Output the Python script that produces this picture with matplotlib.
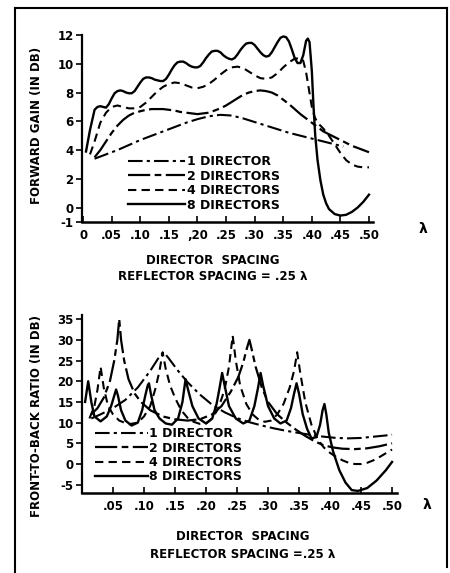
import matplotlib
matplotlib.use("Agg")
import matplotlib.pyplot as plt
from matplotlib.lines import Line2D

plt.rcParams['font.family'] = ['DejaVu Sans']
plt.rcParams['font.weight'] = 'bold'
plt.rcParams['axes.unicode_minus'] = False

# ---------------- data ----------------
series_labels = ["1 DIRECTOR", "2 DIRECTORS", "4 DIRECTORS", "8 DIRECTORS"]

# Forward gain (dB) vs director spacing (wavelengths)
gain_1 = [(0.02, 3.4), (0.04, 3.7), (0.06, 4.0), (0.08, 4.35), (0.10, 4.7), (0.12, 5.0),
          (0.14, 5.3), (0.16, 5.6), (0.18, 5.9), (0.20, 6.15), (0.22, 6.35), (0.24, 6.45),
          (0.26, 6.4), (0.28, 6.2), (0.30, 5.95), (0.32, 5.7), (0.34, 5.45), (0.36, 5.2),
          (0.38, 5.0), (0.40, 4.8), (0.42, 4.6), (0.44, 4.4), (0.455, 4.25)]
gain_2 = [(0.02, 3.5), (0.03, 4.0), (0.04, 4.6), (0.05, 5.2), (0.06, 5.7), (0.07, 6.1),
          (0.08, 6.4), (0.09, 6.6), (0.10, 6.7), (0.11, 6.8), (0.12, 6.85), (0.13, 6.85),
          (0.14, 6.85), (0.15, 6.8), (0.16, 6.75), (0.17, 6.65), (0.18, 6.6), (0.19, 6.55),
          (0.20, 6.5), (0.21, 6.55), (0.22, 6.6), (0.23, 6.75), (0.24, 6.9), (0.25, 7.1),
          (0.26, 7.35), (0.27, 7.6), (0.28, 7.85), (0.29, 8.0), (0.30, 8.1), (0.31, 8.15),
          (0.32, 8.1), (0.33, 8.0), (0.34, 7.8), (0.35, 7.5), (0.36, 7.2), (0.37, 6.85),
          (0.38, 6.5), (0.39, 6.2), (0.40, 5.9), (0.41, 5.6), (0.42, 5.3), (0.43, 5.1),
          (0.44, 4.9), (0.45, 4.7), (0.46, 4.5), (0.47, 4.3), (0.48, 4.15), (0.49, 4.0),
          (0.50, 3.85)]
gain_4 = [(0.012, 3.7), (0.02, 4.6), (0.03, 5.9), (0.04, 6.6), (0.05, 7.0), (0.06, 7.1),
          (0.07, 7.0), (0.08, 6.9), (0.09, 6.9), (0.10, 7.0), (0.11, 7.3), (0.12, 7.7),
          (0.13, 8.1), (0.14, 8.4), (0.15, 8.6), (0.16, 8.7), (0.17, 8.65), (0.18, 8.5),
          (0.19, 8.35), (0.20, 8.3), (0.21, 8.4), (0.22, 8.6), (0.23, 8.9), (0.24, 9.25),
          (0.25, 9.55), (0.26, 9.75), (0.27, 9.8), (0.28, 9.7), (0.29, 9.45), (0.30, 9.2),
          (0.31, 9.0), (0.32, 8.95), (0.33, 9.05), (0.34, 9.35), (0.35, 9.75), (0.36, 10.1),
          (0.37, 10.35), (0.38, 10.4), (0.385, 10.2), (0.39, 9.4), (0.395, 8.2), (0.40, 7.0),
          (0.405, 6.3), (0.41, 5.9), (0.42, 5.5), (0.43, 5.0), (0.44, 4.4), (0.45, 3.8),
          (0.46, 3.3), (0.47, 3.0), (0.48, 2.85), (0.49, 2.8), (0.50, 2.8)]
gain_8 = [(0.005, 3.9), (0.012, 5.4), (0.02, 6.8), (0.025, 7.0), (0.03, 7.05), (0.035, 7.0),
          (0.04, 6.95), (0.045, 7.2), (0.05, 7.6), (0.055, 7.95), (0.06, 8.1), (0.065, 8.15),
          (0.07, 8.1), (0.075, 8.0), (0.08, 7.95), (0.085, 7.95), (0.09, 8.1), (0.095, 8.4),
          (0.10, 8.7), (0.105, 8.95), (0.11, 9.05), (0.115, 9.05), (0.12, 9.0), (0.125, 8.9),
          (0.13, 8.85), (0.135, 8.8), (0.14, 8.8), (0.145, 8.95), (0.15, 9.25), (0.155, 9.6),
          (0.16, 9.9), (0.165, 10.1), (0.17, 10.15), (0.175, 10.15), (0.18, 10.05), (0.185, 9.9),
          (0.19, 9.8), (0.195, 9.75), (0.20, 9.75), (0.205, 9.85), (0.21, 10.1), (0.215, 10.4),
          (0.22, 10.65), (0.225, 10.85), (0.23, 10.9), (0.235, 10.9), (0.24, 10.8), (0.245, 10.6),
          (0.25, 10.45), (0.255, 10.35), (0.26, 10.3), (0.265, 10.4), (0.27, 10.65), (0.275, 10.95),
          (0.28, 11.2), (0.285, 11.4), (0.29, 11.45), (0.295, 11.45), (0.30, 11.3), (0.305, 11.05),
          (0.31, 10.8), (0.315, 10.6), (0.32, 10.5), (0.325, 10.55), (0.33, 10.8), (0.335, 11.15),
          (0.34, 11.5), (0.345, 11.8), (0.35, 11.9), (0.355, 11.85), (0.36, 11.55), (0.365, 11.0),
          (0.37, 10.4), (0.375, 10.05), (0.38, 10.05), (0.385, 10.6), (0.39, 11.6), (0.393, 11.75),
          (0.396, 11.5), (0.40, 9.5), (0.403, 7.0), (0.406, 5.0), (0.41, 3.3), (0.415, 1.9),
          (0.42, 0.9), (0.425, 0.3), (0.43, -0.1), (0.44, -0.45), (0.45, -0.55), (0.46, -0.5),
          (0.47, -0.3), (0.48, 0.0), (0.49, 0.4), (0.50, 0.9)]

# Front-to-back ratio (dB) vs director spacing
ftb_1 = [(0.015, 11), (0.03, 12), (0.05, 13.5), (0.07, 15.5), (0.09, 18.5), (0.11, 22.5),
         (0.125, 26), (0.132, 27), (0.14, 25.5), (0.155, 22.5), (0.17, 19.8), (0.19, 16.8),
         (0.21, 14.3), (0.23, 12.5), (0.25, 11.1), (0.27, 10.1), (0.29, 9.3), (0.31, 8.6),
         (0.33, 8.0), (0.35, 7.5), (0.37, 7.0), (0.39, 6.6), (0.41, 6.3), (0.43, 6.2),
         (0.45, 6.3), (0.47, 6.6), (0.49, 6.9), (0.50, 7.1)]
ftb_2 = [(0.015, 12), (0.025, 13.5), (0.035, 16), (0.045, 20), (0.052, 25), (0.057, 30),
         (0.06, 35), (0.063, 30), (0.068, 25), (0.075, 20.5), (0.085, 17), (0.095, 15),
         (0.11, 13), (0.13, 11.5), (0.15, 10.8), (0.17, 10.5), (0.19, 10.8), (0.21, 12),
         (0.225, 14), (0.24, 17.5), (0.252, 21), (0.26, 24.5), (0.266, 28), (0.27, 30),
         (0.274, 27.5), (0.28, 23.5), (0.29, 18.5), (0.30, 15), (0.315, 12), (0.33, 10),
         (0.345, 8.3), (0.36, 6.8), (0.375, 5.5), (0.39, 4.5), (0.405, 4.0), (0.42, 3.7),
         (0.44, 3.6), (0.46, 3.8), (0.48, 4.3), (0.50, 5.0)]
ftb_4 = [(0.012, 11), (0.02, 14), (0.025, 18), (0.03, 23.5), (0.035, 18.5), (0.042, 14),
         (0.05, 12), (0.06, 10.5), (0.075, 9.6), (0.09, 10), (0.10, 11.5), (0.11, 14),
         (0.118, 18), (0.125, 22.5), (0.13, 27), (0.135, 23), (0.142, 19), (0.15, 16),
         (0.16, 13), (0.17, 11.2), (0.18, 10.2), (0.19, 9.7), (0.20, 9.8), (0.21, 11),
         (0.22, 13.5), (0.23, 18), (0.237, 23.5), (0.243, 31), (0.248, 25), (0.255, 19),
         (0.265, 14.5), (0.275, 12), (0.285, 10.7), (0.295, 10.2), (0.305, 10.5), (0.315, 12),
         (0.325, 14.5), (0.335, 18.5), (0.342, 22.5), (0.347, 27), (0.352, 22), (0.36, 15),
         (0.37, 9.5), (0.38, 6), (0.39, 4), (0.40, 2.7), (0.41, 1.7), (0.42, 0.9),
         (0.43, 0.3), (0.44, 0.0), (0.45, 0.0), (0.46, 0.3), (0.47, 0.9), (0.48, 1.7),
         (0.49, 2.6), (0.50, 3.5)]
ftb_8 = [(0.005, 15), (0.01, 20), (0.015, 15), (0.02, 11.5), (0.03, 10.3), (0.04, 11.5),
         (0.047, 14), (0.052, 16.5), (0.055, 18), (0.058, 16.5), (0.063, 13), (0.07, 10.5),
         (0.08, 9.3), (0.09, 10.0), (0.097, 13), (0.102, 16.5), (0.106, 19), (0.108, 19.5),
         (0.111, 17), (0.117, 13), (0.125, 11), (0.135, 9.8), (0.145, 9.5), (0.155, 11),
         (0.162, 15), (0.167, 20.5), (0.171, 18), (0.178, 14), (0.188, 11), (0.20, 9.8),
         (0.21, 11), (0.217, 14.5), (0.222, 18.5), (0.226, 22), (0.23, 19), (0.237, 14),
         (0.248, 11), (0.26, 9.8), (0.27, 10.5), (0.278, 14), (0.284, 18.5), (0.288, 22),
         (0.292, 19), (0.30, 14), (0.31, 11), (0.32, 9.8), (0.33, 10.5), (0.337, 13.5),
         (0.342, 17), (0.346, 19.5), (0.35, 17), (0.356, 12), (0.363, 8.5), (0.37, 6.2),
         (0.378, 6.5), (0.384, 9.5), (0.388, 13), (0.391, 14.5), (0.394, 12), (0.398, 7.5),
         (0.405, 3), (0.415, -1.5), (0.425, -4.5), (0.435, -6.3), (0.445, -6.5), (0.46, -5.8),
         (0.475, -4), (0.49, -1.5), (0.50, 0.5)]

top_xticks = [0, 0.05, 0.10, 0.15, 0.20, 0.25, 0.30, 0.35, 0.40, 0.45, 0.50]
top_xticklabels = ["0", ".05", ".10", ".15", ",20", ".25", ".30", ".35", ".40", ".45", ".50"]
top_yticks = [-1, 0, 2, 4, 6, 8, 10, 12]
bot_xticks = [0.05, 0.10, 0.15, 0.20, 0.25, 0.30, 0.35, 0.40, 0.45, 0.50]
bot_xticklabels = [".05", ".10", ".15", ".20", ".25", ".30", ".35", ".40", ".45", ".50"]
bot_yticks = [-5, 0, 5, 10, 15, 20, 25, 30, 35]

# ---------------- styling ----------------
styles = [
    dict(linestyle=(0, (7, 2, 1.5, 2)), linewidth=1.5),
    dict(linestyle=(0, (10, 2, 3, 2)), linewidth=1.6),
    dict(linestyle=(0, (4, 2.5)), linewidth=1.5),
    dict(linestyle='-', linewidth=1.7),
]

W, H = 450, 573
fig = plt.figure(figsize=(W / 100, H / 100), dpi=100)


def px_rect(x0, y0, x1, y1):
    return [x0 / W, 1 - y1 / H, (x1 - x0) / W, (y1 - y0) / H]


def style_axes(ax):
    for s in ('top', 'right'):
        ax.spines[s].set_visible(False)
    ax.spines['left'].set_linewidth(1.6)
    ax.spines['bottom'].set_linewidth(1.8)
    ax.tick_params(axis='x', direction='in', length=4, width=1.2, labelsize=8.5, pad=5)
    ax.tick_params(axis='y', direction='out', length=4, width=1.2, labelsize=8.5, pad=2)
    for lab in ax.get_xticklabels() + ax.get_yticklabels():
        lab.set_fontweight('bold')


# Top chart
ax1 = fig.add_axes(px_rect(82, 35, 373, 222))
for data, lab, st in zip([gain_1, gain_2, gain_4, gain_8], series_labels, styles):
    xs, ys = zip(*data)
    ax1.plot(xs, ys, color='black', label=lab, **st)
ax1.set_xlim(-0.002, 0.507)
ax1.set_ylim(-1, 12)
ax1.set_xticks(top_xticks)
ax1.set_xticklabels(top_xticklabels)
ax1.set_yticks(top_yticks)
style_axes(ax1)
leg1 = ax1.legend(loc='upper left', bbox_to_anchor=((128 - 82) / 291, (222 - 155) / 187),
                  frameon=False, handlelength=4.6, handletextpad=0.1, labelspacing=0.12,
                  borderpad=0, borderaxespad=0, prop=dict(size=9, weight='bold'))

# Bottom chart
ax2 = fig.add_axes(px_rect(82, 315, 397, 493))
for data, lab, st in zip([ftb_1, ftb_2, ftb_4, ftb_8], series_labels, styles):
    xs, ys = zip(*data)
    ax2.plot(xs, ys, color='black', label=lab, **st)
ax2.set_xlim(0, 0.508)
ax2.set_ylim(-7, 36)
ax2.set_xticks(bot_xticks)
ax2.set_xticklabels(bot_xticklabels)
ax2.set_yticks(bot_yticks)
style_axes(ax2)
leg2 = ax2.legend(loc='upper left', bbox_to_anchor=((95 - 82) / 315, (493 - 427) / 178),
                  frameon=False, handlelength=4.2, handletextpad=0.1, labelspacing=0.12,
                  borderpad=0, borderaxespad=0, prop=dict(size=9, weight='bold'))


def ftext(x, y, s, **kw):
    fig.text(x / W, 1 - y / H, s, fontweight='bold', **kw)


ftext(37, 125, "FORWARD GAIN (IN DB)", rotation=90, ha='center', va='center', fontsize=8.5)
ftext(37, 416, "FRONT-TO-BACK RATIO (IN DB)", rotation=90, ha='center', va='center', fontsize=8.5)
ftext(423, 229, "λ", ha='center', va='center', fontsize=10)
ftext(427, 505, "λ", ha='center', va='center', fontsize=10)
ftext(213, 260, "DIRECTOR  SPACING", ha='center', va='center', fontsize=8.5)
ftext(213, 277, "REFLECTOR SPACING = .25 λ", ha='center', va='center', fontsize=8.5)
ftext(243, 537, "DIRECTOR  SPACING", ha='center', va='center', fontsize=8.5)
ftext(243, 555, "REFLECTOR SPACING =.25 λ", ha='center', va='center', fontsize=8.5)

# page border
for (x0, y0, x1, y1) in [(15, 8, 447, 8), (15, 8, 15, 573), (447, 8, 447, 567)]:
    fig.add_artist(Line2D([x0 / W, x1 / W], [1 - y0 / H, 1 - y1 / H], color='black', linewidth=1.5))

fig.savefig("out.png", dpi=100)
